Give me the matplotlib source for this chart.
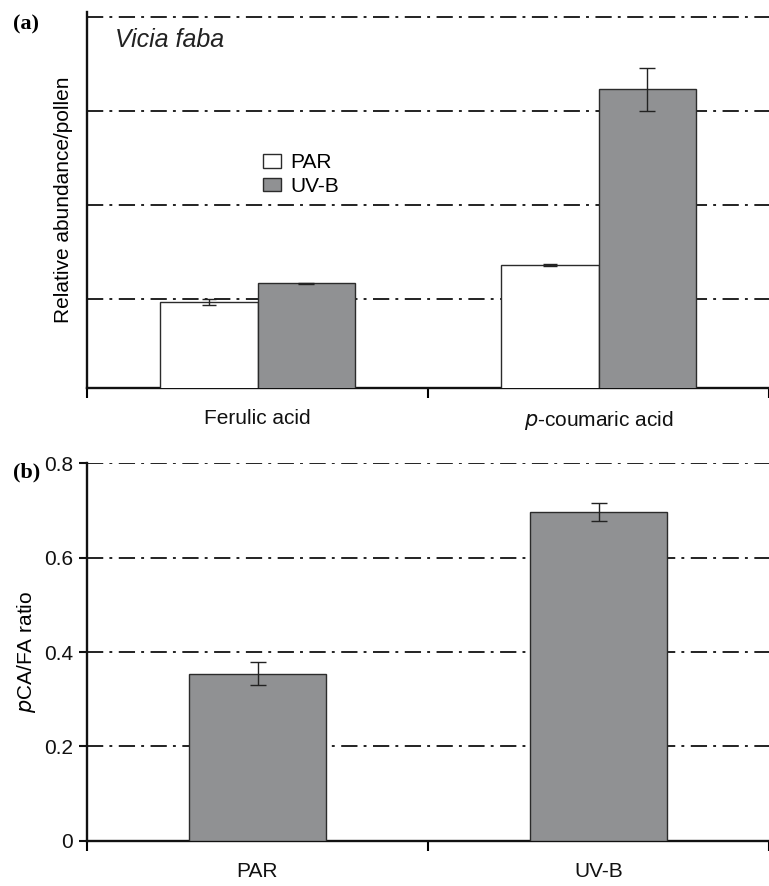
"""
Vicia faba pollen phenolics: relative abundance per pollen (a) and
pCA/FA ratio (b) under PAR and UV-B.
"""
import numpy as np
import matplotlib
matplotlib.use("Agg")
import matplotlib.pyplot as plt

plt.rcParams["font.family"] = ["Liberation Sans", "DejaVu Sans"]

# ---- data ----
acids = ["Ferulic acid", r"$\it{p}$-coumaric acid"]
par_abund = [0.97, 1.365]
par_abund_err = [0.03, 0.01]
uvb_abund = [1.17, 3.23]
uvb_abund_err = [0.006, 0.23]
abund_grid = [1, 2, 3, 4]

treatments = ["PAR", "UV-B"]
ratio = [0.354, 0.696]
ratio_err = [0.024, 0.019]
ratio_ticks = [0, 0.2, 0.4, 0.6, 0.8]

GREY = "#909193"
EDGE = "#2b2b2b"
DASHDOT = (0, (9, 3.4, 1.6, 3.6))
FS = 15

W, H = 769, 886
fig = plt.figure(figsize=(W / 100, H / 100), dpi=100)
ax_a = fig.add_axes([87 / W, 1 - 388 / H, (W - 87) / W, 376 / H])
ax_b = fig.add_axes([87 / W, 1 - 840.7 / H, (W - 87) / W, 377.4 / H])


def style_axes(ax):
    for s in ("top", "right"):
        ax.spines[s].set_visible(False)
    for s in ("left", "bottom"):
        ax.spines[s].set_linewidth(1.7)
        ax.spines[s].set_color("#111111")
    ax.tick_params(axis="both", direction="out", length=6, width=1.5,
                   labelsize=FS, colors="#111111")
    ax.xaxis.set_minor_locator(matplotlib.ticker.FixedLocator([-0.5, 0.5, 1.5]))
    ax.tick_params(axis="x", which="major", length=0, pad=15)
    ax.tick_params(axis="x", which="minor", length=7, width=1.5)


# ---- panel (a) ----
x = np.arange(len(acids))
bw = 0.287
for y in abund_grid:
    ax_a.axhline(y, color="#111111", lw=1.3, ls=DASHDOT, zorder=1)
ax_a.bar(x - bw / 2, par_abund, bw, color="white", edgecolor=EDGE, lw=1.0,
         label="PAR", zorder=3)
ax_a.bar(x + bw / 2, uvb_abund, bw, color=GREY, edgecolor=EDGE, lw=1.0,
         label="UV-B", zorder=3)
ax_a.errorbar(x - bw / 2, par_abund, yerr=par_abund_err, fmt="none",
              ecolor="#222222", elinewidth=1.0, capsize=5, capthick=1.0, zorder=4)
ax_a.errorbar(x + bw / 2, uvb_abund, yerr=uvb_abund_err, fmt="none",
              ecolor="#222222", elinewidth=1.0, capsize=6, capthick=1.0, zorder=4)
ax_a.set_xlim(-0.5, 1.5)
ax_a.set_ylim(0.06, 4.05)
style_axes(ax_a)
ax_a.set_xticks(x)
ax_a.set_xticklabels(acids)
ax_a.set_yticks([])
ax_a.set_ylabel("Relative abundance/pollen", fontsize=FS, labelpad=10)
ax_a.text(0.041, 0.907, "Vicia faba", transform=ax_a.transAxes, fontsize=18,
          style="italic", color="#222222")
ax_a.legend(loc="upper left", bbox_to_anchor=(0.2456, 0.646), frameon=False,
            fontsize=15, handlelength=0.85, handleheight=0.62,
            handletextpad=0.45, labelspacing=0.2, borderaxespad=0)

# ---- panel (b) ----
xb = np.arange(len(treatments))
bwb = 0.40
for y in ratio_ticks[1:]:
    ax_b.axhline(y, color="#111111", lw=1.3, ls=DASHDOT, zorder=1)
ax_b.bar(xb, ratio, bwb, color=GREY, edgecolor=EDGE, lw=1.0, zorder=3)
ax_b.errorbar(xb, ratio, yerr=ratio_err, fmt="none", ecolor="#222222",
              elinewidth=1.0, capsize=6, capthick=1.0, zorder=4)
ax_b.set_xlim(-0.5, 1.5)
ax_b.set_ylim(0, 0.8)
style_axes(ax_b)
ax_b.set_xticks(xb)
ax_b.set_xticklabels(treatments)
ax_b.set_yticks(ratio_ticks)
ax_b.set_yticklabels(["0", "0.2", "0.4", "0.6", "0.8"])
ax_b.tick_params(axis="y", pad=4)
ax_b.set_ylabel(r"$\it{p}$CA/FA ratio", fontsize=FS, labelpad=4)

# panel letters
fig.text(13 / W, 1 - 14 / H, "(a)", fontsize=16, fontweight="bold",
         family="Liberation Serif", va="top")
fig.text(13 / W, 1 - 462 / H, "(b)", fontsize=16, fontweight="bold",
         family="Liberation Serif", va="top")

fig.savefig("out.png", dpi=100)
